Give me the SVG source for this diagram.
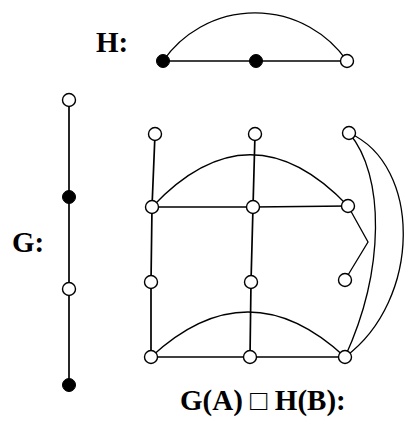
<svg xmlns="http://www.w3.org/2000/svg" width="404" height="424" viewBox="0 0 404 424">
<style>
.e{fill:none;stroke:#000;stroke-width:1.7}
.c{fill:none;stroke:#000;stroke-width:1.3}
.o{fill:#fff;stroke:#000;stroke-width:1.4}
.f{fill:#000;stroke:#000;stroke-width:1}
.t{font-family:"Liberation Serif","Times New Roman",serif;font-weight:bold;font-size:29px;fill:#000}
</style>
<rect width="404" height="424" fill="#fff"/>
<g id="connectors">
<path class="c" d="M163,61 A112,112 0 0 1 347,61"/>
<line class="e" x1="163" y1="61" x2="347" y2="61"/>
<polyline class="e" points="69,100 69,197 69,289 69,385"/>
<polyline class="e" points="155,134 152,207 151,282 151,357"/>
<polyline class="e" points="255,134 253,207 251,282 250,357"/>
<polyline class="e" points="152,207 253,207 348,206"/>
<polyline class="e" points="151,357 250,357 345,357"/>
<path class="c" d="M152,207 Q250,103 348,206"/>
<path class="c" d="M151,357 Q248,267 345,357"/>
<path class="c" d="M349,133 C385,175 385,270 345,357"/>
<path class="c" d="M349,133 C422,165 422,300 345,357"/>
<polyline class="c" points="348,206 368,242 345,280"/>
</g>
<g id="H">
<text class="t" x="96" y="52">H:</text>
<g id="h1"><circle class="f" cx="163" cy="61" r="6.5"/></g>
<g id="h2"><circle class="f" cx="256" cy="61" r="6.5"/></g>
<g id="h3"><circle class="o" cx="347" cy="61" r="6.5"/></g>
</g>
<g id="G">
<text class="t" x="12" y="252">G:</text>
<g id="g1"><circle class="o" cx="69" cy="100" r="6.5"/></g>
<g id="g2"><circle class="f" cx="69" cy="197" r="6.5"/></g>
<g id="g3"><circle class="o" cx="69" cy="289" r="6.5"/></g>
<g id="g4"><circle class="f" cx="69" cy="385" r="6.5"/></g>
</g>
<g id="P">
<g id="p11"><circle class="o" cx="155" cy="134" r="6.5"/></g>
<g id="p12"><circle class="o" cx="255" cy="134" r="6.5"/></g>
<g id="p13"><circle class="o" cx="349" cy="133" r="6.5"/></g>
<g id="p21"><circle class="o" cx="152" cy="207" r="6.5"/></g>
<g id="p22"><circle class="o" cx="253" cy="207" r="6.5"/></g>
<g id="p23"><circle class="o" cx="348" cy="206" r="6.5"/></g>
<g id="p31"><circle class="o" cx="151" cy="282" r="6.5"/></g>
<g id="p32"><circle class="o" cx="251" cy="282" r="6.5"/></g>
<g id="p33"><circle class="o" cx="345" cy="280" r="6.5"/></g>
<g id="p41"><circle class="o" cx="151" cy="357" r="6.5"/></g>
<g id="p42"><circle class="o" cx="250" cy="357" r="6.5"/></g>
<g id="p43"><circle class="o" cx="345" cy="357" r="6.5"/></g>
<text class="t" x="180" y="410">G(A) □ H(B):</text>
</g>
</svg>
